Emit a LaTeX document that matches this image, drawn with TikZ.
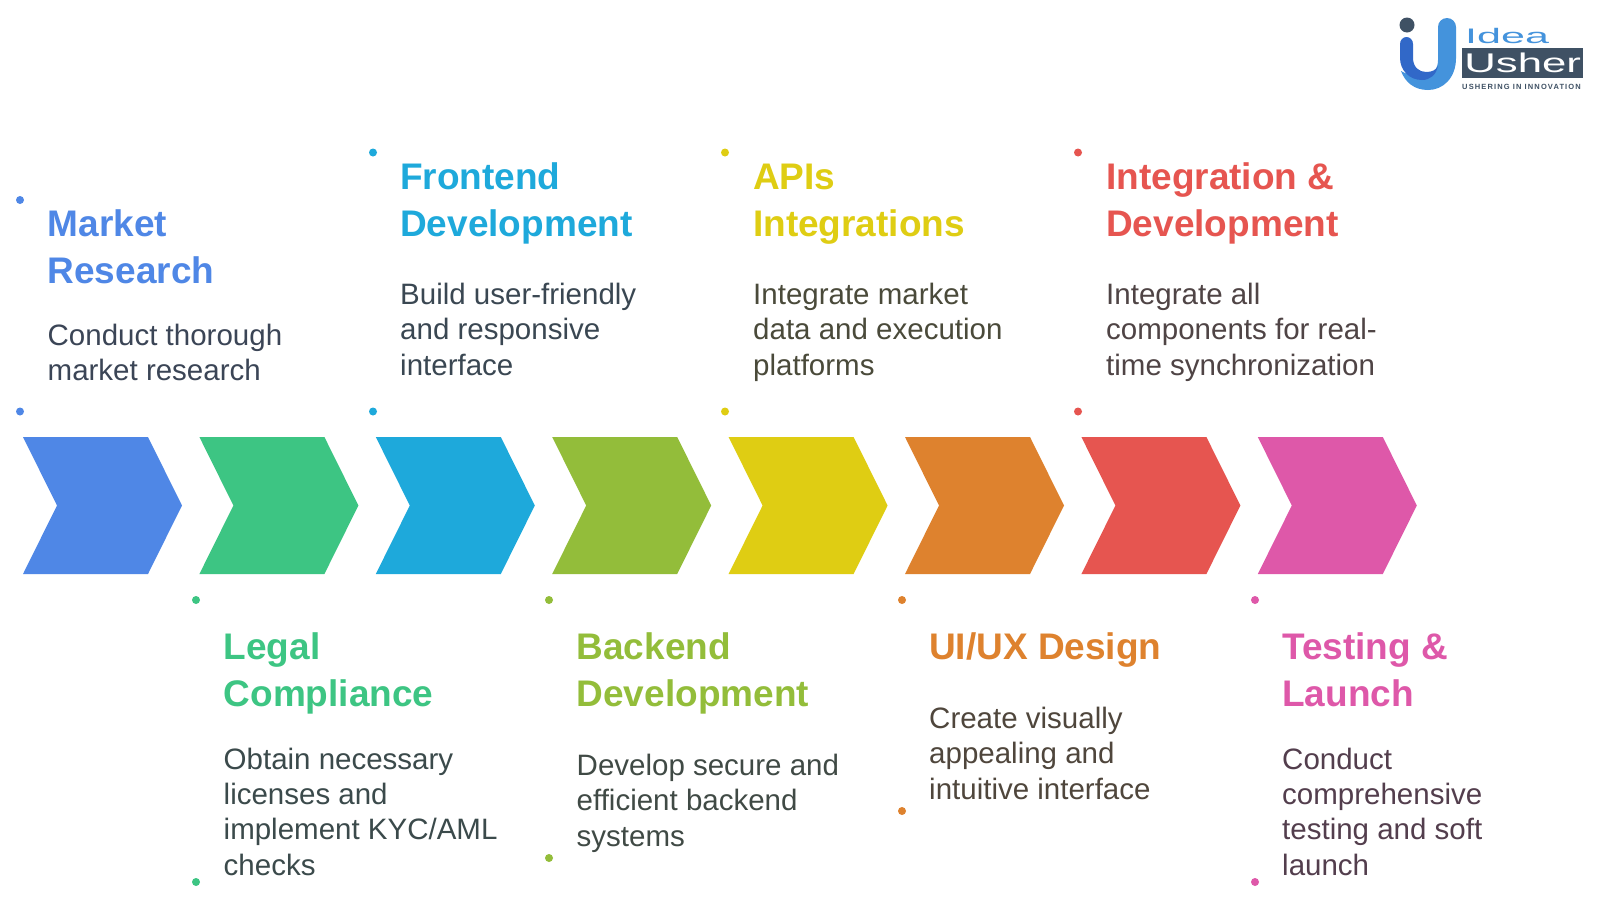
\documentclass[tikz,border=0pt]{standalone}
\usepackage{fontspec}
\setmainfont{Liberation Sans}
\newfontfamily\logofontA[FakeStretch=2.05]{Liberation Sans}
\newfontfamily\logofontB[FakeStretch=1.62]{Liberation Sans}
\newfontfamily\tagfont[LetterSpace=15]{Liberation Sans}
\definecolor{cA}{HTML}{4F87E6}
\definecolor{cB}{HTML}{3DC583}
\definecolor{cC}{HTML}{1EA9DB}
\definecolor{cD}{HTML}{93BD3A}
\definecolor{cE}{HTML}{DFCD13}
\definecolor{cF}{HTML}{DE822E}
\definecolor{cG}{HTML}{E65550}
\definecolor{cH}{HTML}{DE58A9}
\definecolor{bA}{HTML}{3B4556}
\definecolor{bB}{HTML}{3B4A4B}
\definecolor{bC}{HTML}{3A4752}
\definecolor{bD}{HTML}{404A45}
\definecolor{bE}{HTML}{4A4A3A}
\definecolor{bF}{HTML}{4F463C}
\definecolor{bG}{HTML}{4F4445}
\definecolor{bH}{HTML}{533E4D}
\definecolor{logoblue}{HTML}{4493DC}
\definecolor{logodark}{HTML}{3168C8}
\definecolor{logoslate}{HTML}{3F5164}
\tikzset{
  chev/.style={fill=#1,draw=none},
  dotmark/.style={circle,fill=#1,draw=none,inner sep=0pt,minimum size=8pt},
  ttl/.style={anchor=base west,align=left,inner sep=0pt,text=#1,font=\fontsize{37}{47}\selectfont\bfseries},
  bdy/.style={anchor=base west,align=left,inner sep=0pt,text=#1,font=\fontsize{29.5}{35.3}\selectfont},
}
\newcommand{\chevron}[2]{%
  \fill[chev=#2] (#1,437) -- (#1+125,437) -- (#1+159,505.5) -- (#1+125,574) -- (#1,574) -- (#1+34,505.5) -- cycle;}
\begin{document}
\begin{tikzpicture}[x=1pt,y=-1pt]
\useasboundingbox (0,0) rectangle (1600,903);
\fill[white] (0,0) rectangle (1600,903);
\chevron{23}{cA}
\chevron{199.4}{cB}
\chevron{375.8}{cC}
\chevron{552.2}{cD}
\chevron{728.6}{cE}
\chevron{905}{cF}
\chevron{1081.4}{cG}
\chevron{1257.8}{cH}
% dots
\node[dotmark=cA] (d1a) at (20,200) {};
\node[dotmark=cA] (d1b) at (20,411.5) {};
\node[dotmark=cC] (d3a) at (373,152.5) {};
\node[dotmark=cC] (d3b) at (373,411.5) {};
\node[dotmark=cE] (d5a) at (725,152.5) {};
\node[dotmark=cE] (d5b) at (725,411.5) {};
\node[dotmark=cG] (d7a) at (1078,152.5) {};
\node[dotmark=cG] (d7b) at (1078,411.5) {};
\node[dotmark=cB] (d2a) at (196,600) {};
\node[dotmark=cB] (d2b) at (196,882) {};
\node[dotmark=cD] (d4a) at (549,600) {};
\node[dotmark=cD] (d4b) at (549,858) {};
\node[dotmark=cF] (d6a) at (902,600) {};
\node[dotmark=cF] (d6b) at (902,811) {};
\node[dotmark=cH] (d8a) at (1255,600) {};
\node[dotmark=cH] (d8b) at (1255,882) {};
% titles
\node[ttl=cA] (t1) at (47.5,283.5) {Market\\Research};
\node[ttl=cC] (t3) at (400,236.5) {Frontend\\Development};
\node[ttl=cE] (t5) at (753,236.5) {APIs\\Integrations};
\node[ttl=cG] (t7) at (1106,236.5) {Integration \&\\Development};
\node[ttl=cB] (t2) at (223.5,706.5) {Legal\\Compliance};
\node[ttl=cD] (t4) at (576.5,706.5) {Backend\\Development};
\node[ttl=cF] (t6) at (929,659.5) {UI/UX Design};
\node[ttl=cH] (t8) at (1282,706.5) {Testing \&\\Launch};
% bodies
\node[bdy=bA] (b1) at (47.5,380.5) {Conduct thorough\\market research};
\node[bdy=bC] (b3) at (400,375) {Build user-friendly\\and responsive\\interface};
\node[bdy=bE] (b5) at (753,375) {Integrate market\\data and execution\\platforms};
\node[bdy=bG] (b7) at (1106,375) {Integrate all\\components for real-\\time synchronization};
\node[bdy=bB] (b2) at (223.5,875) {Obtain necessary\\licenses and\\implement KYC/AML\\checks};
\node[bdy=bD] (b4) at (576.5,846) {Develop secure and\\efficient backend\\systems};
\node[bdy=bF] (b6) at (929,799) {Create visually\\appealing and\\intuitive interface};
\node[bdy=bH] (b8) at (1282,875) {Conduct\\comprehensive\\testing and soft\\launch};
% logo
\fill[logoblue] (1456,27) -- (1456,58) .. controls (1456,78) and (1443,90) .. (1428,90)
  .. controls (1414,90) and (1405,82) .. (1401,71) .. controls (1410,76) and (1420,78) .. (1428,76)
  .. controls (1434,74) and (1438,68) .. (1438,60) -- (1438,27)
  .. controls (1438,22) and (1442,18) .. (1447,18) .. controls (1452,18) and (1456,22) .. (1456,27) -- cycle;
\fill[logodark] (1400,44) .. controls (1400,40) and (1403,37) .. (1406.5,37) .. controls (1410,37) and (1413,40) .. (1413,44) -- (1413,58)
  .. controls (1413,67) and (1419,72) .. (1426,72) .. controls (1432,72) and (1436,70) .. (1438,66)
  .. controls (1436,75) and (1430,80) .. (1422,80) .. controls (1409,80) and (1400,70) .. (1400,58) -- cycle;
\node[circle,fill=logoslate,inner sep=0pt,minimum size=15pt] (logodot) at (1407,25) {};
\node[anchor=base west,inner sep=0pt,text=logoblue,font=\logofontA\fontsize{21}{21}\selectfont] (logoidea) at (1465,43) {Idea};
\node[fill=logoslate,anchor=north west,inner sep=0pt,minimum width=121pt,minimum height=30pt] (logobox) at (1462,48) {};
\node[anchor=center,inner sep=0pt,text=white,font=\logofontB\fontsize{27}{27}\selectfont] (logousher) at (logobox.center) {Usher};
\node[anchor=base west,inner sep=0pt,text=logoslate,font=\tagfont\fontsize{7.5}{8}\selectfont\bfseries] (logotag) at (1462,89) {USHERING IN INNOVATION};
\end{tikzpicture}
\end{document}
